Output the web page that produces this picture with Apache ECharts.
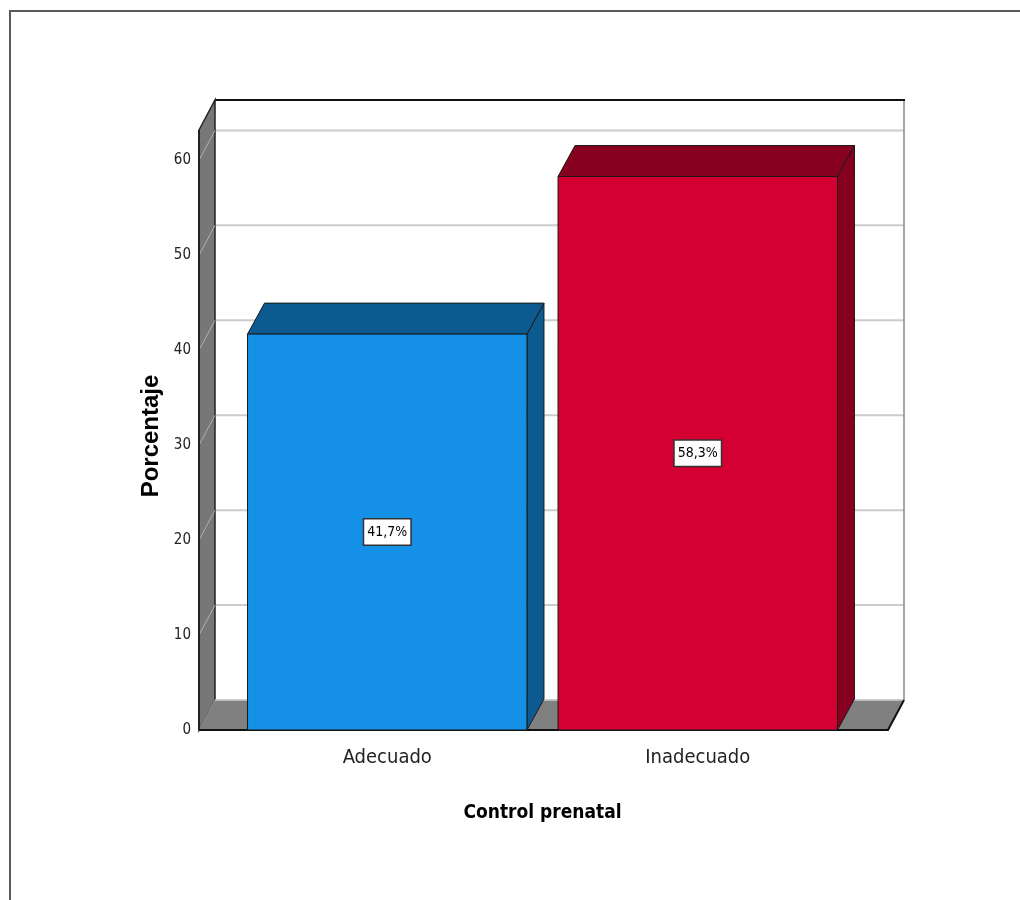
<!DOCTYPE html>
<html>
<head>
<meta charset="utf-8">
<script src="https://cdn.jsdelivr.net/npm/echarts@6/dist/echarts.min.js"></script>
<style>
  html, body { margin: 0; padding: 0; background: #fff; }
  #frame { position: absolute; left: 9px; top: 10px; width: 1011px; height: 890px;
           border-left: 2px solid #5a5a5a; border-top: 2px solid #5a5a5a; box-sizing: border-box; }
  #chart { position: absolute; left: 0; top: 0; width: 1020px; height: 900px; }
</style>
</head>
<body>
<div id="frame"></div>
<div id="chart"></div>
<script>
// ---- data ----
const categories = ['Adecuado', 'Inadecuado'];
const percentages = [41.7, 58.3];
const yTicks = [0, 10, 20, 30, 40, 50, 60];
const xAxisTitle = 'Control prenatal';
const yAxisTitle = 'Porcentaje';

// ---- styling ----
const NARROW = "'Liberation Sans Narrow', 'DejaVu Sans Condensed', 'Arial Narrow', sans-serif";
const BOLD = "'Liberation Sans', Arial, sans-serif";
const frontColors = ['#1490e6', '#d50032'];
const darkColors = ['#0c5a8f', '#880020'];
const WALL = { dx: 16, dy: -30, padL: 33, padR: 35 };
const BAR = { dx: 17, dy: -31 };

const chart = echarts.init(document.getElementById('chart'), null, { renderer: 'canvas' });

function renderWalls(params, api) {
  const cs = params.coordSys;
  const y0 = api.coord([0, 0])[1];
  const yTop = cs.y;
  const xL = cs.x - WALL.padL;
  const xR = cs.x + cs.width + WALL.padR;
  const dx = WALL.dx, dy = WALL.dy;
  const children = [];
  children.push({ type: 'rect', shape: { x: xL + dx, y: yTop + dy, width: xR - xL, height: y0 - yTop },
    style: { fill: '#ffffff' } });
  yTicks.forEach(v => {
    const y = api.coord([0, v])[1] + dy;
    children.push({ type: 'line', shape: { x1: xL + dx, y1: y, x2: xR + dx, y2: y },
      style: { stroke: '#cccccc', lineWidth: 2 } });
  });
  children.push({ type: 'line', shape: { x1: xR + dx, y1: yTop + dy, x2: xR + dx, y2: y0 + dy },
    style: { stroke: '#8a8a8a', lineWidth: 1.5 } });
  children.push({ type: 'line', shape: { x1: xL + dx, y1: yTop + dy, x2: xR + dx + 1, y2: yTop + dy },
    style: { stroke: '#111111', lineWidth: 2 } });
  children.push({ type: 'polygon', shape: { points: [[xL, yTop], [xL + dx, yTop + dy], [xL + dx, y0 + dy], [xL, y0]] },
    style: { fill: '#777777', stroke: '#222222', lineWidth: 1.5 } });
  yTicks.forEach(v => {
    const y = api.coord([0, v])[1];
    children.push({ type: 'line', shape: { x1: xL, y1: y, x2: xL + dx, y2: y + dy },
      style: { stroke: '#b0b0b0', lineWidth: 1 } });
  });
  children.push({ type: 'polygon', shape: { points: [[xL, y0], [xL + dx, y0 + dy], [xR + dx, y0 + dy], [xR, y0]] },
    style: { fill: '#808080' } });
  children.push({ type: 'line', shape: { x1: xL + dx, y1: y0 + dy, x2: xR + dx, y2: y0 + dy },
    style: { stroke: '#cfcfcf', lineWidth: 1.5 } });
  children.push({ type: 'polyline', shape: { points: [[xL, y0], [xR, y0], [xR + dx, y0 + dy]] },
    style: { stroke: '#111111', lineWidth: 2, fill: null } });
  children.push({ type: 'line', shape: { x1: xL, y1: yTop, x2: xL, y2: y0 },
    style: { stroke: '#222222', lineWidth: 2 } });
  return { type: 'group', children };
}

function renderBar(params, api) {
  const idx = api.value(0);
  const val = api.value(1);
  const base = api.coord([idx, 0]);
  const top = api.coord([idx, val]);
  const bw = api.size([1, 0])[0] * 0.9;
  const x0 = base[0] - bw / 2, x1 = base[0] + bw / 2;
  const yT = top[1], yB = base[1];
  const dx = BAR.dx, dy = BAR.dy;
  const stroke = '#1a1a1a';
  const label = val.toFixed(1).replace('.', ',') + '%';
  return {
    type: 'group',
    children: [
      { type: 'polygon', shape: { points: [[x1, yT], [x1 + dx, yT + dy], [x1 + dx, yB + dy], [x1, yB]] },
        style: { fill: darkColors[idx], stroke, lineWidth: 1 } },
      { type: 'polygon', shape: { points: [[x0, yT], [x1, yT], [x1 + dx, yT + dy], [x0 + dx, yT + dy]] },
        style: { fill: darkColors[idx], stroke, lineWidth: 1 } },
      { type: 'rect', shape: { x: x0, y: yT, width: bw, height: yB - yT },
        style: { fill: frontColors[idx], stroke, lineWidth: 1 } },
      { type: 'text', x: base[0], y: (yT + yB) / 2,
        style: { text: label, fontFamily: NARROW, fontSize: 14, fill: '#000',
          align: 'center', verticalAlign: 'middle',
          backgroundColor: '#ffffff', borderColor: '#333333', borderWidth: 1.5,
          padding: [6, 3, 5, 3] } }
    ]
  };
}

chart.setOption({
  animation: false,
  backgroundColor: 'transparent',
  grid: { left: 232, width: 621, top: 130, height: 600 },
  xAxis: {
    type: 'category',
    data: categories,
    boundaryGap: true,
    axisLine: { show: false },
    axisTick: { show: false },
    axisLabel: { fontFamily: NARROW, fontSize: 20, color: '#222', margin: 18 },
    name: xAxisTitle,
    nameLocation: 'middle',
    nameGap: 74,
    nameTextStyle: { fontFamily: NARROW, fontSize: 19, fontWeight: 'bold', color: '#000' }
  },
  yAxis: {
    type: 'value',
    min: 0,
    max: 63.2,
    interval: 10,
    axisLine: { show: false },
    axisTick: { show: false },
    splitLine: { show: false },
    axisLabel: { fontFamily: NARROW, fontSize: 15, color: '#222', margin: 41,
      showMaxLabel: false,
      formatter: v => (yTicks.indexOf(v) >= 0 ? String(v) : '') },
    name: yAxisTitle,
    nameLocation: 'middle',
    nameGap: 68,
    nameRotate: 90,
    nameTextStyle: { fontFamily: BOLD, fontSize: 24, fontWeight: 'bold', color: '#000',
      padding: [0, 12, 0, 0] }
  },
  series: [
    { type: 'custom', renderItem: renderWalls, data: [[0, 0]], silent: true, z: 1, clip: false },
    { type: 'custom', renderItem: renderBar, data: percentages.map((v, i) => [i, v]), z: 2, clip: false }
  ]
});
</script>
</body>
</html>
